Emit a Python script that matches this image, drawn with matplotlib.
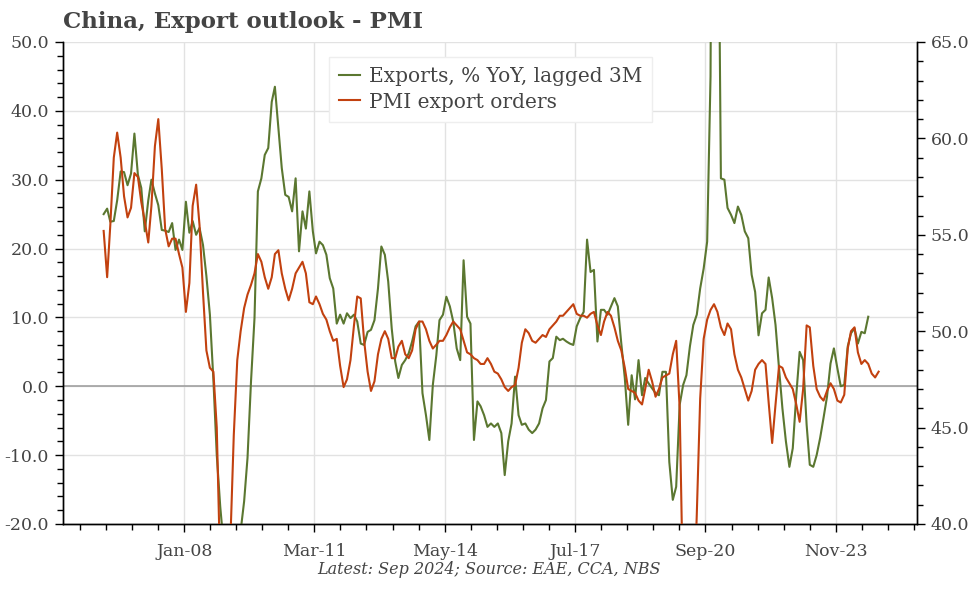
import numpy as np
import pandas as pd
import matplotlib
matplotlib.use("Agg")
import matplotlib.pyplot as plt
import matplotlib.dates as mdates
from matplotlib.ticker import MultipleLocator, FixedLocator, FormatStrFormatter
from matplotlib.lines import Line2D

# ---------------- data ----------------
exports_start = "2006-01-01"
exports_yoy = [
    25.0, 25.8, 23.9, 24.0, 27.0, 31.2, 31.1, 29.2, 30.9, 36.7,
    30.7, 28.8, 22.5, 27.0, 30.0, 28.0, 26.3, 22.7, 22.6, 22.4,
    23.7, 19.8, 21.3, 19.8, 26.8, 22.3, 24.0, 22.0, 23.0, 20.5,
    16.0, 10.4, 1.0, -10.0, -17.5, -23.0, -26.0, -25.0, -27.0, -24.0,
    -21.0, -16.7, -10.4, 0.7, 9.9, 28.3, 30.2, 33.6, 34.6, 41.3,
    43.5, 37.5, 31.7, 27.8, 27.5, 25.4, 30.2, 19.6, 25.4, 22.9,
    28.3, 22.5, 19.3, 21.0, 20.5, 19.1, 15.7, 14.2, 9.1, 10.4,
    9.1, 10.6, 9.9, 10.4, 9.4, 6.2, 6.0, 7.9, 8.2, 9.6,
    14.2, 20.3, 19.1, 15.2, 8.4, 3.6, 1.2, 3.1, 3.8, 4.8,
    6.5, 8.7, 9.4, -1.0, -4.2, -7.8, 0.2, 4.5, 9.6, 10.4,
    13.0, 11.6, 9.4, 5.5, 3.8, 18.3, 10.1, 9.1, -7.8, -2.2,
    -2.9, -4.2, -5.9, -5.4, -5.9, -5.4, -6.8, -12.9, -8.0, -5.4,
    1.4, -4.2, -5.6, -5.4, -6.3, -6.8, -6.3, -5.4, -3.2, -2.0,
    3.6, 4.1, 7.2, 6.7, 6.9, 6.5, 6.2, 6.0, 8.7, 9.9,
    10.8, 21.3, 16.6, 16.9, 6.5, 11.1, 11.1, 10.4, 11.6, 12.8,
    11.6, 6.2, 1.2, -5.6, 1.6, -1.9, 3.8, -1.3, 1.2, 0.4,
    -0.3, -1.0, -1.3, 2.1, 2.1, -11.0, -16.5, -14.6, -2.7, 0.2,
    1.6, 5.8, 8.9, 10.4, 14.2, 17.1, 21.0, 45.0, 154.0, 90.0,
    30.2, 30.0, 25.9, 24.9, 23.7, 26.1, 24.9, 22.5, 21.5, 16.2,
    13.7, 7.4, 10.6, 11.1, 15.8, 12.8, 8.9, 2.6, -3.2, -8.0,
    -11.7, -9.0, -1.3, 5.0, 3.8, -5.6, -11.4, -11.7, -10.0, -7.5,
    -4.6, -1.5, 3.3, 5.5, 2.6, 0.0, 0.2, 5.8, 7.7, 8.4,
    6.2, 7.9, 7.7, 10.1,
]

pmi_start = "2006-01-01"
pmi_export_orders = [
    55.2, 52.8, 55.5, 59.0, 60.3, 59.0, 57.0, 55.9, 56.4, 58.2,
    58.0, 56.7, 55.7, 54.6, 56.5, 59.6, 61.0, 58.4, 55.3, 54.4,
    54.8, 54.8, 54.0, 53.3, 51.0, 52.5, 56.5, 57.6, 55.5, 52.0,
    49.0, 48.1, 47.9, 45.0, 37.5, 32.0, 33.0, 39.5, 44.6, 48.5,
    50.0, 51.2, 51.9, 52.4, 53.0, 54.0, 53.6, 52.8, 52.2, 52.8,
    54.0, 54.2, 53.0, 52.2, 51.6, 52.2, 53.0, 53.3, 53.6, 53.0,
    51.5, 51.4, 51.8, 51.4, 50.9, 50.6, 50.0, 49.5, 49.6, 48.2,
    47.1, 47.5, 48.5, 50.3, 51.8, 51.7, 49.5, 47.9, 46.9, 47.4,
    48.8, 49.6, 50.0, 49.6, 48.6, 48.6, 49.2, 49.5, 48.8, 48.6,
    49.0, 50.1, 50.5, 50.5, 50.1, 49.5, 49.1, 49.3, 49.5, 49.5,
    49.8, 50.2, 50.5, 50.3, 50.1, 49.5, 48.9, 48.8, 48.6, 48.5,
    48.3, 48.3, 48.6, 48.3, 47.9, 47.8, 47.5, 47.1, 46.9, 47.1,
    47.2, 48.1, 49.4, 50.1, 49.9, 49.5, 49.4, 49.6, 49.8, 49.7,
    50.1, 50.3, 50.5, 50.8, 50.8, 51.0, 51.2, 51.4, 50.9, 50.8,
    50.8, 50.7, 50.9, 51.0, 50.3, 49.8, 50.5, 51.0, 50.8, 50.2,
    49.5, 49.0, 48.1, 47.0, 46.9, 46.8, 46.4, 46.2, 47.0, 48.0,
    47.4, 46.6, 47.0, 47.6, 47.7, 47.8, 48.8, 49.5, 46.0, 36.0,
    30.0, 31.0, 35.0, 40.5, 46.5, 49.6, 50.6, 51.1, 51.4, 51.0,
    50.2, 49.8, 50.4, 50.1, 48.8, 48.0, 47.6, 47.0, 46.4, 46.9,
    48.0, 48.3, 48.5, 48.3, 46.3, 44.2, 46.2, 48.2, 48.1, 47.6,
    47.3, 47.0, 46.2, 45.3, 47.0, 50.3, 50.2, 48.2, 47.0, 46.6,
    46.4, 46.9, 47.3, 47.0, 46.4, 46.3, 46.7, 49.1, 50.0, 50.2,
    48.9, 48.3, 48.5, 48.3, 47.8, 47.6, 47.9,
]

tick_dates = ["2008-01-01", "2011-03-01", "2014-05-01", "2017-07-01",
              "2020-09-01", "2023-11-01"]
tick_labels = ["Jan-08", "Mar-11", "May-14", "Jul-17", "Sep-20", "Nov-23"]

series_names = ["Exports, % YoY, lagged 3M", "PMI export orders"]
title_text = "China, Export outlook - PMI"
footer_text = "Latest: Sep 2024; Source: EAE, CCA, NBS"

# ---------------- style ----------------
GREEN = "#5b7730"
RED = "#c2410f"
TEXT = "#444444"
FONT = "DejaVu Serif"
plt.rcParams["font.family"] = [FONT, "DejaVu Sans"]

# monthly observations plotted at mid-month
mid = pd.Timedelta(days=15)
dates_exp = pd.date_range(exports_start, periods=len(exports_yoy), freq="MS") + mid
dates_pmi = pd.date_range(pmi_start, periods=len(pmi_export_orders), freq="MS") + mid

fig = plt.figure(figsize=(9.72, 5.89), dpi=100)
ax = fig.add_axes([0.0648, 0.1104, 0.8783, 0.8183])
ax2 = ax.twinx()

x_left = mdates.date2num(pd.Timestamp("2005-01-20"))
x_right = mdates.date2num(pd.Timestamp("2025-10-20"))

ax.plot(dates_exp, exports_yoy, color=GREEN, lw=1.5, zorder=3)
ax.axhline(0, color="#999999", lw=1.1, zorder=2)
ax2.plot(dates_pmi, pmi_export_orders, color=RED, lw=1.5, zorder=3)

ax.set_xlim(x_left, x_right)
ax.set_ylim(-20, 50)
ax2.set_ylim(40, 65)

# x ticks
major_nums = mdates.date2num(pd.to_datetime(tick_dates))
ax.xaxis.set_major_locator(FixedLocator(major_nums))
ax.set_xticklabels(tick_labels)
step = np.mean(np.diff(major_nums)) / 5.0
minor = []
k = 1
while major_nums[0] - k * step > x_left:
    minor.append(major_nums[0] - k * step)
    k += 1
for a, b in zip(major_nums[:-1], major_nums[1:]):
    minor.extend(np.linspace(a, b, 6)[1:-1])
k = 1
while major_nums[-1] + k * step < x_right:
    minor.append(major_nums[-1] + k * step)
    k += 1
ax.xaxis.set_minor_locator(FixedLocator(minor))

# y ticks
ax.yaxis.set_major_locator(MultipleLocator(10))
ax.yaxis.set_minor_locator(MultipleLocator(2))
ax.yaxis.set_major_formatter(FormatStrFormatter("%.1f"))
ax2.yaxis.set_major_locator(MultipleLocator(5))
ax2.yaxis.set_minor_locator(MultipleLocator(1))
ax2.yaxis.set_major_formatter(FormatStrFormatter("%.1f"))

for a in (ax, ax2):
    a.tick_params(axis="both", which="major", direction="out", length=6,
                  width=1.0, color="black", labelsize=12.5, labelcolor=TEXT)
    a.tick_params(axis="both", which="minor", direction="out", length=4,
                  width=1.0, color="black")
ax.tick_params(axis="x", which="major", pad=8)
ax.tick_params(axis="y", which="major", pad=4)
ax2.tick_params(axis="y", which="major", pad=4)

ax.grid(True, which="major", color="#e2e2e2", lw=1.0, zorder=0)
ax.set_axisbelow(True)

for a in (ax, ax2):
    a.spines["top"].set_visible(False)
    for s in ("left", "right", "bottom"):
        a.spines[s].set_color("black")
        a.spines[s].set_linewidth(1.0)

# legend
handles = [Line2D([], [], color=GREEN, lw=1.5), Line2D([], [], color=RED, lw=1.5)]
leg = ax2.legend(handles, series_names, loc="upper left",
                 bbox_to_anchor=(0.312, 0.968), borderaxespad=0,
                 fontsize=14.5, frameon=True, fancybox=False,
                 handlelength=1.0, handletextpad=0.45, labelspacing=0.3,
                 borderpad=0.5)
leg.get_frame().set_edgecolor("#eeeeee")
leg.get_frame().set_facecolor("white")
leg.get_frame().set_alpha(1.0)
for t in leg.get_texts():
    t.set_color(TEXT)

fig.text(0.0648, 0.962, title_text, fontsize=16.5, fontweight="bold",
         color=TEXT, ha="left", va="center")
fig.text(0.503, 0.018, footer_text, fontsize=11.5, style="italic",
         color=TEXT, ha="center", va="bottom")

fig.savefig("out.png", dpi=100)
